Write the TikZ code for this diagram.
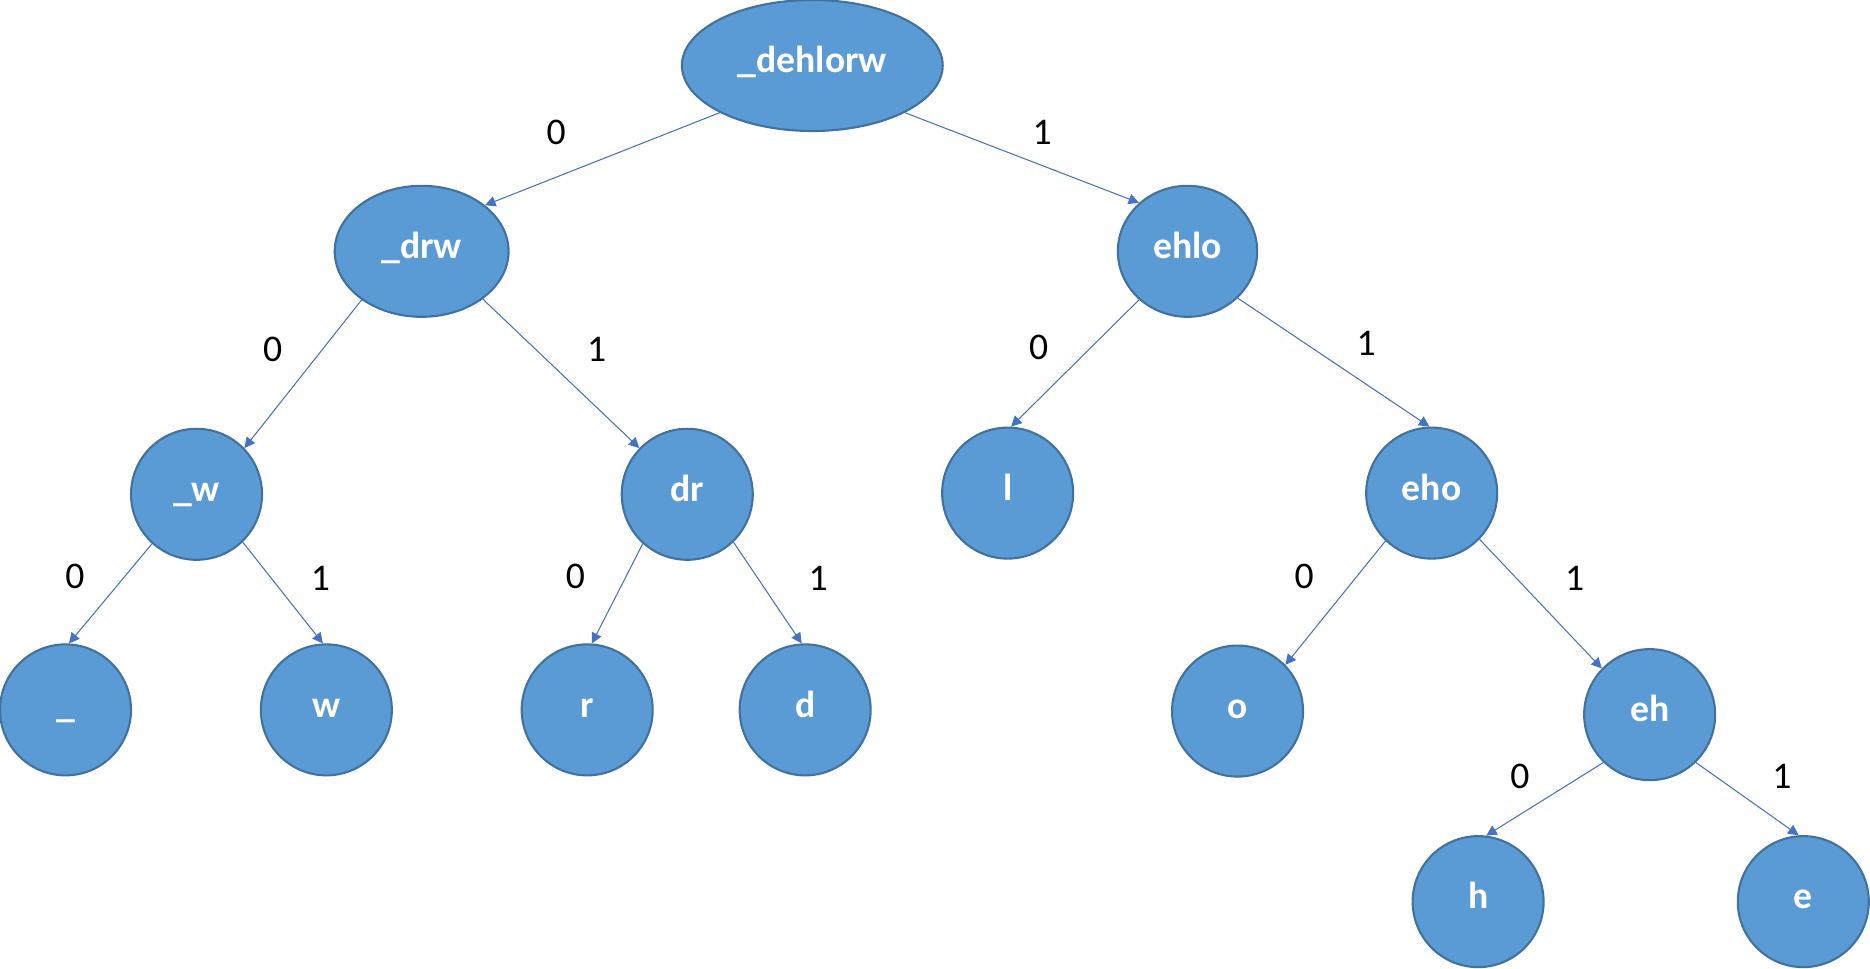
\documentclass[tikz,border=0pt]{standalone}
\usepackage{fontspec}
\setmainfont{Carlito}
\usetikzlibrary{arrows.meta,shapes.geometric}
\definecolor{nodefill}{HTML}{5B9BD5}
\definecolor{nodeline}{HTML}{41719C}
\definecolor{edgeline}{HTML}{4472C4}
\begin{document}
\begin{tikzpicture}[x=0.02cm, y=-0.02cm,
  hnode/.style={ellipse, draw=nodeline, line width=1pt, fill=nodefill, text=white,
    font=\fontsize{18}{20}\selectfont\bfseries, inner sep=0pt,
    text height=0.7em, text depth=0pt,
    minimum width=2.2cm, minimum height=2.2cm},
  hedge/.style={draw=edgeline, line width=0.5pt, -{Triangle[length=5pt,width=5pt]}},
  bit/.style={font=\fontsize{18}{20}\selectfont}]
\useasboundingbox (0,0) rectangle (1570,813);

% tree nodes
\node[hnode, minimum width=4.38cm] (root) at (682,55) {\_dehlorw};
\node[hnode, minimum width=2.92cm] (drw) at (354,211) {\_drw};
\node[hnode, minimum width=2.34cm] (ehlo) at (997,211) {ehlo};
\node[hnode] (uw) at (165,415) {\_w};
\node[hnode] (dr) at (577,415) {dr};
\node[hnode] (l) at (846,414) {l};
\node[hnode] (eho) at (1202,414) {eho};
\node[hnode] (us) at (55,596) {\_};
\node[hnode] (w) at (274,596) {w};
\node[hnode] (r) at (493,596) {r};
\node[hnode] (d) at (676,596) {d};
\node[hnode] (o) at (1039,597) {o};
\node[hnode] (eh) at (1385,600) {eh};
\node[hnode] (h) at (1241,757) {h};
\node[hnode] (e) at (1514,757) {e};

% edges
\draw[hedge] (root.207.5) -- (drw.36);
\draw[hedge] (root.333) -- (ehlo.135);
\draw[hedge] (drw.219) -- (uw.44);
\draw[hedge] (drw.322) -- (dr.136);
\draw[hedge] (ehlo.225) -- (l.87);
\draw[hedge] (ehlo.317) -- (eho.92);
\draw[hedge] (uw.228) -- (us.87);
\draw[hedge] (uw.314) -- (w.93);
\draw[hedge] (dr.228) -- (r.86);
\draw[hedge] (dr.314) -- (d.93);
\draw[hedge] (eho.226) -- (o.44);
\draw[hedge] (eho.316) -- (eh.136);
\draw[hedge] (eh.226) -- (h.83);
\draw[hedge] (eh.314) -- (e.94);

% bit labels
\node[bit] (root0) at (467,111) {0};
\node[bit] (root1) at (875,111) {1};
\node[bit] (drw0) at (229,293) {0};
\node[bit] (drw1) at (501,293) {1};
\node[bit] (ehlo0) at (872,292) {0};
\node[bit] (ehlo1) at (1147,288) {1};
\node[bit] (uw0) at (63,484) {0};
\node[bit] (uw1) at (269,486) {1};
\node[bit] (dr0) at (483,484) {0};
\node[bit] (dr1) at (687,486) {1};
\node[bit] (eho0) at (1095,484) {0};
\node[bit] (eho1) at (1322,486) {1};
\node[bit] (eh0) at (1276,652) {0};
\node[bit] (eh1) at (1496,652) {1};

\end{tikzpicture}
\end{document}
